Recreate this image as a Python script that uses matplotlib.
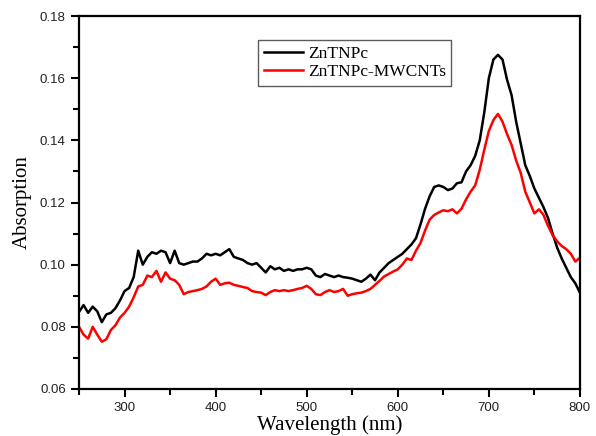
import numpy as np
import matplotlib
matplotlib.use("Agg")
import matplotlib.pyplot as plt
from matplotlib.ticker import MultipleLocator

wavelength = list(range(250, 801, 5))

zntnpc = [
    0.0848, 0.0870, 0.0845, 0.0865, 0.0850, 0.0815, 0.0840, 0.0845, 0.0860, 0.0885,
    0.0915, 0.0925, 0.0960, 0.1045, 0.1000, 0.1025, 0.1040, 0.1035, 0.1045, 0.1040,
    0.1005, 0.1045, 0.1005, 0.1000, 0.1005, 0.1010, 0.1010, 0.1020, 0.1035, 0.1030,
    0.1035, 0.1030, 0.1040, 0.1050, 0.1025, 0.1020, 0.1015, 0.1005, 0.1000, 0.1005,
    0.0990, 0.0975, 0.0995, 0.0985, 0.0990, 0.0980, 0.0985, 0.0980, 0.0985, 0.0985,
    0.0990, 0.0985, 0.0965, 0.0960, 0.0970, 0.0965, 0.0960, 0.0965, 0.0960, 0.0958,
    0.0955, 0.0950, 0.0945, 0.0955, 0.0968, 0.0950, 0.0975, 0.0990, 0.1005, 0.1015,
    0.1025, 0.1035, 0.1050, 0.1065, 0.1085, 0.1130, 0.1180, 0.1220, 0.1250, 0.1255,
    0.1250, 0.1240, 0.1245, 0.1262, 0.1265, 0.1300, 0.1320, 0.1350, 0.1400, 0.1490,
    0.1600, 0.1660, 0.1675, 0.1660, 0.1595, 0.1545, 0.1460, 0.1390, 0.1320, 0.1285,
    0.1245, 0.1215, 0.1185, 0.1150, 0.1100, 0.1055, 0.1020, 0.0990, 0.0960, 0.0940,
    0.0910,
]

zntnpc_mwcnts = [
    0.0800, 0.0775, 0.0762, 0.0800, 0.0775, 0.0752, 0.0760, 0.0790, 0.0805, 0.0830,
    0.0845, 0.0865, 0.0895, 0.0930, 0.0935, 0.0965, 0.0960, 0.0980, 0.0945, 0.0975,
    0.0955, 0.0950, 0.0935, 0.0905, 0.0912, 0.0915, 0.0918, 0.0922, 0.0930, 0.0945,
    0.0955, 0.0935, 0.0940, 0.0942, 0.0935, 0.0932, 0.0928, 0.0925, 0.0915, 0.0912,
    0.0910, 0.0902, 0.0912, 0.0918, 0.0915, 0.0918, 0.0915, 0.0918, 0.0922, 0.0925,
    0.0932, 0.0922, 0.0905, 0.0902, 0.0912, 0.0918, 0.0912, 0.0915, 0.0922, 0.0900,
    0.0905, 0.0908, 0.0910, 0.0915, 0.0922, 0.0935, 0.0948, 0.0962, 0.0970, 0.0978,
    0.0985, 0.1000, 0.1020, 0.1015, 0.1045, 0.1070, 0.1110, 0.1145, 0.1160, 0.1168,
    0.1175, 0.1172, 0.1178, 0.1165, 0.1180, 0.1210, 0.1235, 0.1255, 0.1305, 0.1370,
    0.1430, 0.1465, 0.1485, 0.1460, 0.1420, 0.1385, 0.1335, 0.1295, 0.1235, 0.1200,
    0.1165, 0.1178, 0.1160, 0.1125, 0.1095, 0.1075, 0.1060, 0.1050, 0.1035, 0.1010,
    0.1022,
]

series_labels = ["ZnTNPc", "ZnTNPc-MWCNTs"]
x_ticks = [300, 400, 500, 600, 700, 800]
y_ticks = [0.06, 0.08, 0.10, 0.12, 0.14, 0.16, 0.18]

fig = plt.figure(figsize=(5.96, 4.36), dpi=100)
ax = fig.add_axes([0.1326, 0.1078, 0.8404, 0.8555])

ax.plot(wavelength, zntnpc, color="black", lw=1.8, label=series_labels[0])
ax.plot(wavelength, zntnpc_mwcnts, color="#ff0000", lw=1.8, label=series_labels[1])

ax.set_xlim(250, 800)
ax.set_ylim(0.06, 0.18)
ax.set_xticks(x_ticks)
ax.set_yticks(y_ticks)
ax.set_yticklabels([f"{v:.2f}" for v in y_ticks])
ax.xaxis.set_minor_locator(MultipleLocator(50))
ax.yaxis.set_minor_locator(MultipleLocator(0.01))

for s in ax.spines.values():
    s.set_linewidth(1.6)
ax.tick_params(which="both", direction="out", top=False, right=False, width=1.5,
               labelsize=9.5, labelcolor="#222222")
ax.tick_params(which="major", length=6)
ax.tick_params(which="minor", length=4)
for lab in ax.get_xticklabels() + ax.get_yticklabels():
    lab.set_fontfamily("Liberation Sans")

ax.set_xlabel("Wavelength (nm)", family="Liberation Serif", fontsize=15, labelpad=0.5)
ax.set_ylabel("Absorption", family="Liberation Serif", fontsize=15, labelpad=6)

leg = ax.legend(loc="upper left", bbox_to_anchor=(0.358, 0.935), prop={"family": "Liberation Serif", "size": 12.5},
                frameon=True, fancybox=False, handlelength=2.3, borderpad=0.3,
                labelspacing=0.15, handletextpad=0.25, borderaxespad=0)
leg.get_frame().set_edgecolor("#333333")
leg.get_frame().set_linewidth(1.0)

fig.savefig("out.png", dpi=100)
